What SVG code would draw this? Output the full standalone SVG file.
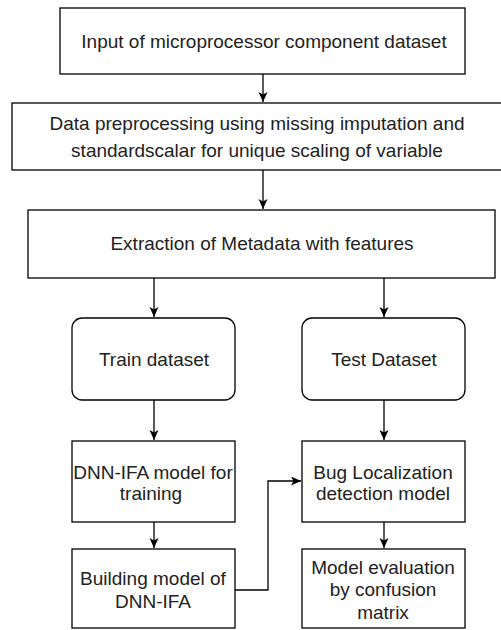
<svg xmlns="http://www.w3.org/2000/svg" width="501" height="630" viewBox="0 0 501 630">
<style>
.box{fill:#fff;stroke:#000;stroke-width:1.3}
.t{font-family:"Liberation Sans",Arial,sans-serif;font-size:19px;fill:#222;text-anchor:middle}
.c{fill:none;stroke:#000;stroke-width:1.3}
</style>
<defs>
<marker id="ah" markerWidth="12" markerHeight="10" refX="10" refY="4.5" orient="auto" markerUnits="userSpaceOnUse">
<path d="M0,0 L10,4.5 L0,9 L2.5,4.5 z" fill="#000"/>
</marker>
</defs>
<rect width="501" height="630" fill="#fff"/>
<g id="connectors">
<path class="c" d="M263,74 V102" marker-end="url(#ah)"/>
<path class="c" d="M263,170 V209" marker-end="url(#ah)"/>
<path class="c" d="M154,278 V317" marker-end="url(#ah)"/>
<path class="c" d="M384,278 V317" marker-end="url(#ah)"/>
<path class="c" d="M154,400 V440" marker-end="url(#ah)"/>
<path class="c" d="M384,400 V440" marker-end="url(#ah)"/>
<path class="c" d="M154,522 V548" marker-end="url(#ah)"/>
<path class="c" d="M384,522 V548" marker-end="url(#ah)"/>
<path class="c" d="M235,590 H268 V481 H301" marker-end="url(#ah)"/>
</g>
<g id="input">
<rect class="box" x="60" y="8" width="405" height="66"/>
<text class="t" x="264" y="48">Input of microprocessor component dataset</text>
</g>
<g id="preprocessing">
<rect class="box" x="12" y="103" width="495" height="67"/>
<text class="t" x="257" y="130">Data preprocessing using missing imputation and</text>
<text class="t" x="257" y="157">standardscalar for unique scaling of variable</text>
</g>
<g id="extraction">
<rect class="box" x="28" y="210" width="467" height="68"/>
<text class="t" x="262" y="250">Extraction of Metadata with features</text>
</g>
<g id="train">
<rect class="box" x="72" y="318" width="163" height="82" rx="10" ry="10"/>
<text class="t" x="154" y="366">Train dataset</text>
</g>
<g id="test">
<rect class="box" x="302" y="318" width="163" height="82" rx="10" ry="10"/>
<text class="t" x="384" y="366">Test Dataset</text>
</g>
<g id="dnn">
<rect class="box" x="72" y="441" width="163" height="81"/>
<text class="t" x="153" y="479">DNN-IFA model for</text>
<text class="t" x="151" y="500">training</text>
</g>
<g id="bug">
<rect class="box" x="302" y="441" width="163" height="81"/>
<text class="t" x="383" y="479">Bug Localization</text>
<text class="t" x="383" y="500">detection model</text>
</g>
<g id="building">
<rect class="box" x="72" y="549" width="163" height="79"/>
<text class="t" x="153" y="585">Building model of</text>
<text class="t" x="153" y="608">DNN-IFA</text>
</g>
<g id="evaluation">
<rect class="box" x="302" y="549" width="163" height="79"/>
<text class="t" x="383" y="574">Model evaluation</text>
<text class="t" x="383" y="596">by confusion</text>
<text class="t" x="383" y="619">matrix</text>
</g>
</svg>
